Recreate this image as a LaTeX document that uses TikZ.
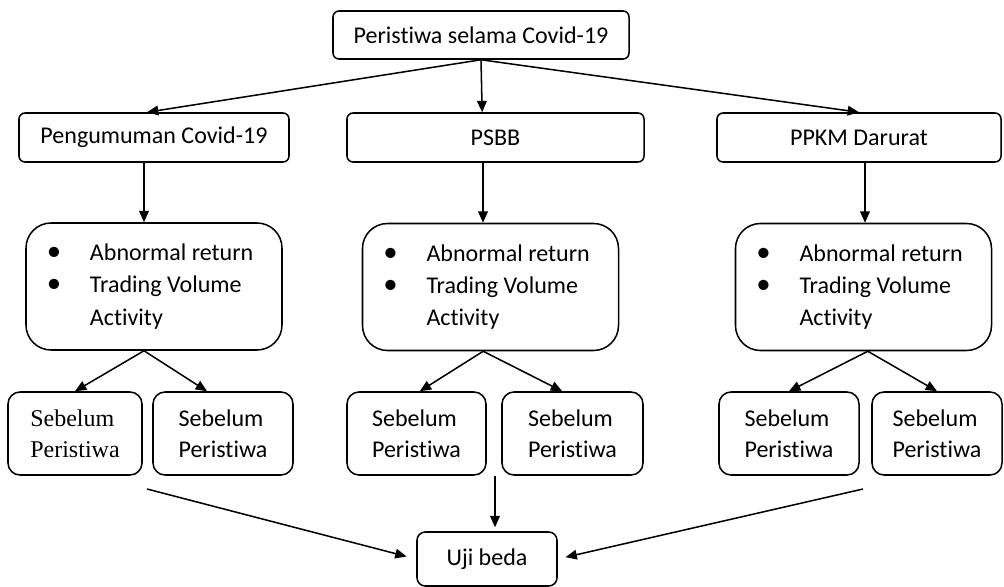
\documentclass[tikz,border=0pt]{standalone}
\usepackage{fontspec}
\setmainfont{Carlito}[Ligatures=NoCommon]
\newfontfamily\timesfont{Liberation Serif}
\usetikzlibrary{arrows.meta,positioning}
\tikzset{
  base/.style={draw=black,line width=1.3pt,align=center,inner sep=0pt,font=\fontsize{20.5}{27}\selectfont},
  topbox/.style={base,rounded corners=.18cm,minimum height=1.47cm},
  itembox/.style={base,rounded corners=.75cm,minimum height=3.81cm,text width=6.9cm,inner xsep=.39cm,align=flush left,font=\fontsize{20.5}{27.5}\selectfont},
  subbox/.style={base,rounded corners=.36cm,minimum height=2.49cm,align=left,font=\fontsize{20.5}{26.5}\selectfont},
  flow/.style={-{Triangle[length=3.4mm,width=2.9mm]},line width=1.3pt}
}
\newcommand{\dotitem}[1]{\makebox[1.53cm][l]{\makebox[0.9cm]{\scalebox{1.2}{\textbullet}}}#1}
\newcommand{\itemlist}{\dotitem{Abnormal return}\\\dotitem{Trading Volume}\\\hspace*{1.53cm}Activity}

\begin{document}
\begin{tikzpicture}[x=0.03cm,y=-0.03cm]
  \useasboundingbox (0,0) rectangle (1004,587);
  % events
  \node[topbox,minimum width=8.88cm,minimum height=1.44cm] (top) at (481,35) {Peristiwa selama Covid-19};
  \node[topbox,minimum width=8.1cm] (peng) at (154,137.5) {Pengumuman Covid-19};
  \node[topbox,minimum width=8.91cm] (psbb) at (495.5,137.5) {PSBB};
  \node[topbox,minimum width=8.52cm] (ppkm) at (859,137.5) {PPKM Darurat};
  % variables
  \node[itembox] (var1) at (154,286.5) {\itemlist};
  \node[itembox] (var2) at (490.5,287) {\itemlist};
  \node[itembox] (var3) at (863.5,287) {\itemlist};
  % before / after
  \node[subbox,minimum width=4.02cm,font=\timesfont\fontsize{20.5}{26.5}\selectfont] (pre1) at (75,433.5) {Sebelum\\Peristiwa};
  \node[subbox,minimum width=4.2cm] (post1) at (223,433.5) {Sebelum\\Peristiwa};
  \node[subbox,minimum width=4.17cm] (pre2) at (416.5,433.5) {Sebelum\\Peristiwa};
  \node[subbox,minimum width=4.23cm] (post2) at (572.5,433.5) {Sebelum\\Peristiwa};
  \node[subbox,minimum width=4.2cm] (pre3) at (789,433.5) {Sebelum\\Peristiwa};
  \node[subbox,minimum width=3.9cm] (post3) at (937,433.5) {Sebelum\\Peristiwa};
  % test
  \node[topbox,minimum width=4.2cm,minimum height=1.62cm,rounded corners=.25cm] (uji) at (487,559) {Uji beda};
  \coordinate (in1) at (147,489);
  \coordinate (in2) at (495,476);
  \coordinate (in3) at (863,489);

  \draw[flow] (top.south) -- ([xshift=-.21cm]peng.north);
  \draw[flow] (top.south) -- ([xshift=-.4cm]psbb.north);
  \draw[flow] (top.south) -- (ppkm.north);
  \draw[flow] ([xshift=-.3cm]peng.south) -- ([xshift=-.3cm]var1.north);
  \draw[flow] ([xshift=-.375cm]psbb.south) -- ([xshift=-.225cm]var2.north);
  \draw[flow] ([xshift=.18cm]ppkm.south) -- ([xshift=.045cm]var3.north);
  \draw[flow] ([xshift=-.3cm]var1.south) -- (pre1.north);
  \draw[flow] ([xshift=-.3cm]var1.south) -- ([xshift=-.48cm]post1.north);
  \draw[flow] ([xshift=-.22cm]var2.south) -- ([xshift=.1cm]pre2.north);
  \draw[flow] ([xshift=-.22cm]var2.south) -- ([xshift=-.31cm]post2.north);
  \draw[flow] ([xshift=.13cm]var3.south) -- (pre3.north);
  \draw[flow] ([xshift=.13cm]var3.south) -- (post3.north);
  \draw[flow,shorten >=.3cm] (in1) -- (uji.west);
  \draw[flow,shorten >=.12cm] (in2) -- (in2 |- uji.north);
  \draw[flow,shorten >=.24cm] (in3) -- (uji.east);
\end{tikzpicture}
\end{document}
